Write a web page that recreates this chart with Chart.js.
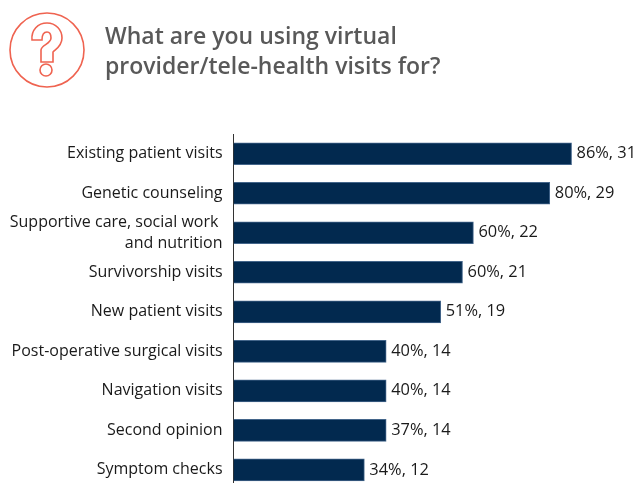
<!DOCTYPE html>
<html>
<head>
<meta charset="utf-8">
<title>Virtual visits</title>
<script src="https://cdn.jsdelivr.net/npm/chart.js@4"></script>
<style>
  html, body { margin: 0; height: 483px; overflow: hidden; background: #fff; }
  #icon { position: absolute; left: 0; top: 0; }
  h1 {
    position: absolute; left: 105px; top: 20px; margin: 0;
    font: 600 23px/30px "Open Sans", sans-serif; color: #595959;
  }
  canvas { position: absolute; left: 0; top: 0; }
</style>
</head>
<body>
<canvas id="visitsChart" width="637" height="503"></canvas>
<svg id="icon" width="100" height="100" fill="none" stroke="#ef6350" stroke-width="1.6">
  <circle cx="47" cy="50" r="37"/>
  <path d="M32 40 C31 30 38 23 47 23 C56 23 62 30 62 38 C62 46 56 49 53 52 L53 62 L41 62 L41 50 C41 45 51 44 51 38 C51 34 50 32 47 32 C44 32 42 35 42 40 Z"/>
  <circle cx="46" cy="70" r="6"/>
</svg>
<h1>What are you using virtual<br>provider/tele-health visits for?</h1>
<script>
const categories = [
    "Existing patient visits",
    "Genetic counseling",
    ["Supportive care, social work ", "and nutrition"],
    "Survivorship visits",
    "New patient visits",
    "Post-operative surgical visits",
    "Navigation visits",
    "Second opinion",
    "Symptom checks"
];
const counts = [31, 29, 22, 21, 19, 14, 14, 14, 12];
const percents = [86, 80, 60, 60, 51, 40, 40, 37, 34];

const fontFamily = '"Open Sans", sans-serif';

// writes "percent, count" just past the end of each bar
const barLabels = {
    id: 'barLabels',
    afterDatasetsDraw(chart) {
        const ctx = chart.ctx;
        ctx.save();
        ctx.font = '16.4px ' + fontFamily;
        ctx.fillStyle = '#1a1a1a';
        ctx.textBaseline = 'middle';
        chart.getDatasetMeta(0).data.forEach((bar, i) => {
            ctx.fillText(percents[i] + '%, ' + counts[i], bar.x + 5, bar.y);
        });
        ctx.restore();
    }
};

new Chart(document.getElementById('visitsChart'), {
    type: 'bar',
    data: {
        labels: categories,
        datasets: [{
            data: counts,
            backgroundColor: '#02294f',
            borderColor: '#43658a',
            borderWidth: 1,
            barThickness: 22
        }]
    },
    options: {
        indexAxis: 'y',
        responsive: false,
        animation: false,
        layout: { padding: { top: 134, bottom: 10 } },
        plugins: { legend: { display: false }, tooltip: { enabled: false } },
        scales: {
            x: {
                min: 0,
                max: 37,
                display: false
            },
            y: {
                afterFit(scale) { scale.width = 233.5; },
                grid: { display: false },
                border: { display: true, color: '#333333', width: 1 },
                ticks: {
                    autoSkip: false,
                    color: '#1a1a1a',
                    padding: 3,
                    font: { family: fontFamily, size: 16, lineHeight: 1.3 }
                }
            }
        }
    },
    plugins: [barLabels]
});
</script>
</body>
</html>
